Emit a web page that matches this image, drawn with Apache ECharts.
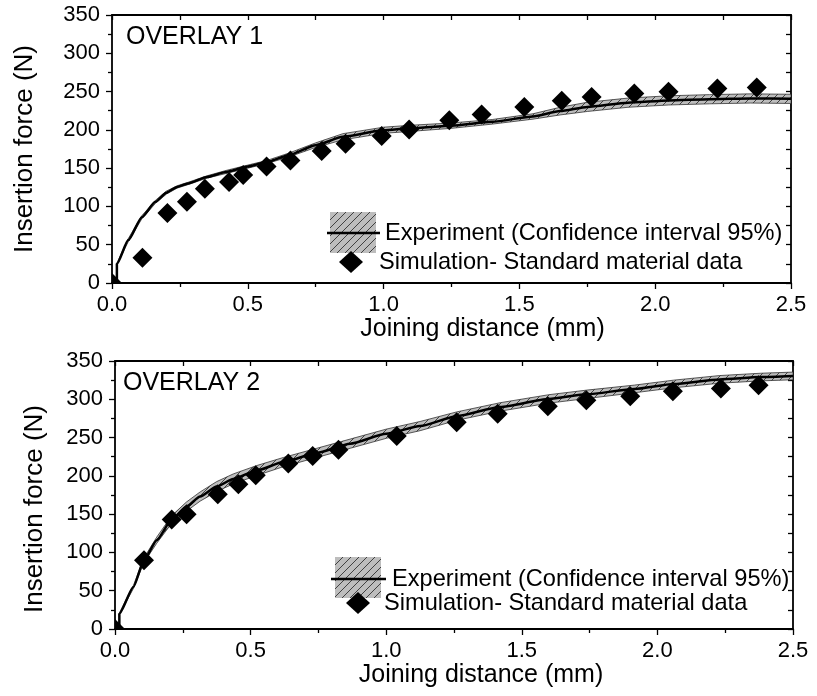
<!DOCTYPE html>
<html><head><meta charset="utf-8">
<script src="https://cdn.jsdelivr.net/npm/echarts@6/dist/echarts.min.js"></script>
<style>html,body{margin:0;padding:0;background:#fff}#c{width:817px;height:696px}</style>
</head><body><div id="c"></div>
<script>
// ---------- OVERLAY 1 ----------
const o1ExpX    = [0.018, 0.018, 0.06, 0.11, 0.16, 0.20, 0.24, 0.28, 0.35, 0.42, 0.50, 0.57, 0.65, 0.75, 0.85, 1.00, 1.10, 1.25, 1.40, 1.55, 1.65, 1.75, 1.90, 2.05, 2.20, 2.35, 2.50];
const o1ExpMean = [0, 25, 56, 86, 106, 118, 125.5, 130, 138.5, 145, 152, 158, 167, 180, 191, 199.5, 202, 205.5, 210.5, 217.5, 224.5, 230, 235.5, 238.5, 240, 241, 240.5];
const o1ExpLow  = [0, 24, 54, 84, 104, 116, 124, 128.5, 137, 143, 150, 156, 164.5, 177, 187, 195.5, 198, 202, 207.5, 214, 219.5, 224, 229.5, 232.5, 234, 235, 234.5];
const o1ExpHigh = [0, 26, 58, 88, 108, 120, 127, 131.5, 140, 147, 154, 160, 169.5, 183, 195, 203.5, 206, 209, 213.5, 221, 229.5, 236, 241.5, 244.5, 246, 247, 246.5];
const o1SimX = [0, 0.112, 0.204, 0.276, 0.342, 0.431, 0.483, 0.569, 0.657, 0.772, 0.860, 0.993, 1.094, 1.242, 1.361, 1.518, 1.656, 1.766, 1.923, 2.049, 2.229, 2.374];
const o1SimY = [0, 33, 91.5, 106, 123, 132, 141, 152, 160, 172.5, 182, 192, 200.5, 212.7, 220, 230, 238, 243, 247.5, 249.7, 254, 255.4];

// ---------- OVERLAY 2 ----------
const o2ExpX    = [0.016, 0.016, 0.068, 0.107, 0.154, 0.209, 0.264, 0.314, 0.375, 0.436, 0.523, 0.621, 0.744, 0.867, 1.00, 1.125, 1.26, 1.42, 1.60, 1.74, 1.915, 2.06, 2.23, 2.38, 2.50];
const o2ExpMean = [0, 20, 55, 90, 116, 143, 160, 173, 186, 196, 207, 218, 230, 242, 255, 265, 278, 290, 300.5, 306.5, 313.5, 320, 326, 329, 330.5];
const o2ExpLow  = [0, 19, 53, 87, 112, 138, 154, 167, 179.5, 189.5, 200.5, 212, 224, 236, 249, 259, 272.5, 284.5, 295, 301, 308.5, 315, 321, 324, 325.5];
const o2ExpHigh = [0, 21, 57, 93, 120, 148, 166, 179, 192.5, 202.5, 213.5, 224, 236, 248, 261, 271, 283.5, 295.5, 306, 312, 318.5, 325, 331, 334, 335.5];
const o2SimX = [0, 0.107, 0.209, 0.264, 0.379, 0.455, 0.519, 0.639, 0.729, 0.824, 1.039, 1.260, 1.411, 1.596, 1.738, 1.900, 2.057, 2.234, 2.373];
const o2SimY = [0, 89.7, 143, 150, 176, 189, 200.7, 216, 226, 234, 252, 270, 281, 291, 298.7, 304, 310.4, 314, 318.3];

const panelTitles = ['OVERLAY 1', 'OVERLAY 2'];
const xAxisName = 'Joining distance (mm)';
const yAxisName = 'Insertion force (N)';
const legendExp = 'Experiment (Confidence interval 95%)';
const legendSim = 'Simulation- Standard material data';

const FONT = "'Liberation Sans', Arial, Helvetica, sans-serif";

// hatch pattern
const pc = document.createElement('canvas');
pc.width = 8; pc.height = 8;
const g = pc.getContext('2d');
g.fillStyle = '#bdbdbd'; g.fillRect(0, 0, 8, 8);
g.strokeStyle = '#333'; g.lineWidth = 0.9;
g.beginPath();
g.moveTo(0, 8); g.lineTo(8, 0);
g.moveTo(-1, 1); g.lineTo(1, -1);
g.moveTo(7, 9); g.lineTo(9, 7);
g.stroke();
const hatch = { image: pc, repeat: 'repeat' };

function bandRenderer(xs, lows, highs) {
  return function (params, api) {
    if (params.dataIndex !== 0) return;
    const pts = [];
    for (let i = 1; i < xs.length; i++) pts.push(api.coord([xs[i], highs[i]]));
    for (let i = xs.length - 1; i >= 1; i--) pts.push(api.coord([xs[i], lows[i]]));
    return { type: 'polygon', shape: { points: pts }, style: { fill: hatch, stroke: '#333', lineWidth: 0.8 } };
  };
}
function diamondRender(params, api) {
  const p = api.coord([api.value(0), api.value(1)]);
  const w = 10, h = 10;
  return { type: 'polygon', shape: { points: [[p[0], p[1] - h], [p[0] + w, p[1]], [p[0], p[1] + h], [p[0] - w, p[1]]] }, style: { fill: '#000' } };
}

const grids = [
  { left: 112, top: 15, width: 679, height: 268 },
  { left: 115, top: 361, width: 678, height: 268 }
];

function mainX(gi, padLeft, gap) {
  return {
    type: 'value', gridIndex: gi, min: 0, max: 2.5, interval: 0.5, position: 'bottom',
    name: xAxisName, nameLocation: 'middle', nameGap: gap,
    nameTextStyle: { fontFamily: FONT, fontSize: 25, color: '#000', padding: [0, 0, 0, padLeft] },
    axisLine: { show: true, onZero: false, lineStyle: { color: '#000', width: 1.8 } },
    axisTick: { show: true, inside: false, length: 6, lineStyle: { color: '#000', width: 1.3 } },
    minorTick: { show: true, splitNumber: 2, length: 4, lineStyle: { color: '#000', width: 1.3 } },
    axisLabel: { show: true, margin: 11, fontFamily: FONT, fontSize: 22, color: '#000', formatter: v => v.toFixed(1) },
    splitLine: { show: false }, minorSplitLine: { show: false }
  };
}
function mirrorX(gi) {
  return {
    type: 'value', gridIndex: gi, min: 0, max: 2.5, interval: 0.25, position: 'top',
    axisLine: { show: true, onZero: false, lineStyle: { color: '#000', width: 1.8 } },
    axisTick: { show: true, inside: true, length: 5, lineStyle: { color: '#000', width: 1.3 } },
    axisLabel: { show: false }, splitLine: { show: false }
  };
}
function mainY(gi, gap, padRight) {
  return {
    type: 'value', gridIndex: gi, min: 0, max: 350, interval: 50, position: 'left',
    name: yAxisName, nameLocation: 'middle', nameGap: gap, nameRotate: 90,
    nameTextStyle: { fontFamily: FONT, fontSize: 26, color: '#000', padding: [0, padRight, 0, 0] },
    axisLine: { show: true, onZero: false, lineStyle: { color: '#000', width: 1.8 } },
    axisTick: { show: true, inside: false, length: 6, lineStyle: { color: '#000', width: 1.3 } },
    minorTick: { show: true, splitNumber: 2, length: 4, lineStyle: { color: '#000', width: 1.3 } },
    axisLabel: { show: true, margin: 12, fontFamily: FONT, fontSize: 22, color: '#000' },
    splitLine: { show: false }, minorSplitLine: { show: false }
  };
}
function mirrorY(gi) {
  return {
    type: 'value', gridIndex: gi, min: 0, max: 350, interval: 25, position: 'right',
    axisLine: { show: true, onZero: false, lineStyle: { color: '#000', width: 1.8 } },
    axisTick: { show: true, inside: true, length: 5, lineStyle: { color: '#000', width: 1.3 } },
    axisLabel: { show: false }, splitLine: { show: false }
  };
}

function panelSeries(ax, xs, mean, low, high, sx, sy) {
  return [
    { type: 'custom', xAxisIndex: ax, yAxisIndex: ax, clip: true, z: 2,
      renderItem: bandRenderer(xs, low, high),
      data: xs.map((x, i) => [x, low[i], high[i]]), encode: { x: 0, y: [1, 2] } },
    { type: 'line', xAxisIndex: ax, yAxisIndex: ax, z: 3, symbol: 'none', smooth: 0.2, smoothMonotone: 'x',
      lineStyle: { color: '#000', width: 2.5 },
      data: xs.map((x, i) => [x, mean[i]]) },
    { type: 'custom', xAxisIndex: ax, yAxisIndex: ax, clip: true, z: 4,
      renderItem: diamondRender,
      data: sx.map((x, i) => [x, sy[i]]), encode: { x: 0, y: 1 } }
  ];
}

function legendGraphics(rx, ry, lineX1, lineX2, ly, tx, dx, dy, tx2) {
  return [
    { type: 'rect', left: rx, top: ry, shape: { width: 46, height: 41 }, style: { fill: hatch }, z: 10 },
    { type: 'line', shape: { x1: lineX1, y1: ly, x2: lineX2, y2: ly }, style: { stroke: '#000', lineWidth: 2.5 }, z: 11 },
    { type: 'text', x: tx, y: ly, style: { text: legendExp, font: '23.6px ' + FONT, fill: '#000', verticalAlign: 'middle' }, z: 11 },
    { type: 'polygon', shape: { points: [[dx, dy - 11], [dx + 12, dy], [dx, dy + 11], [dx - 12, dy]] }, style: { fill: '#000' }, z: 11 },
    { type: 'text', x: tx2, y: dy, style: { text: legendSim, font: '23.6px ' + FONT, fill: '#000', verticalAlign: 'middle' }, z: 11 }
  ];
}

const option = {
  backgroundColor: '#fff',
  animation: false,
  grid: grids,
  xAxis: [mainX(0, 62, 32), mirrorX(0), mainX(1, 54, 34), mirrorX(1)],
  yAxis: [mainY(0, 74, 0), mirrorY(0), mainY(1, 67, 28), mirrorY(1)],
  series: [
    ...panelSeries(0, o1ExpX, o1ExpMean, o1ExpLow, o1ExpHigh, o1SimX, o1SimY),
    ...panelSeries(2, o2ExpX, o2ExpMean, o2ExpLow, o2ExpHigh, o2SimX, o2SimY)
  ],
  graphic: [
    { type: 'text', x: 126, y: 37, style: { text: panelTitles[0], font: '25px ' + FONT, fill: '#000', verticalAlign: 'middle' } },
    { type: 'text', x: 123, y: 383, style: { text: panelTitles[1], font: '25px ' + FONT, fill: '#000', verticalAlign: 'middle' } },
    ...legendGraphics(330, 212, 327, 380, 233, 385, 351, 262, 379),
    ...legendGraphics(335, 557, 331, 386, 579, 392, 358, 603, 384)
  ]
};

const chart = echarts.init(document.getElementById('c'), null, { renderer: 'canvas' });
chart.setOption(option);
</script></body></html>
